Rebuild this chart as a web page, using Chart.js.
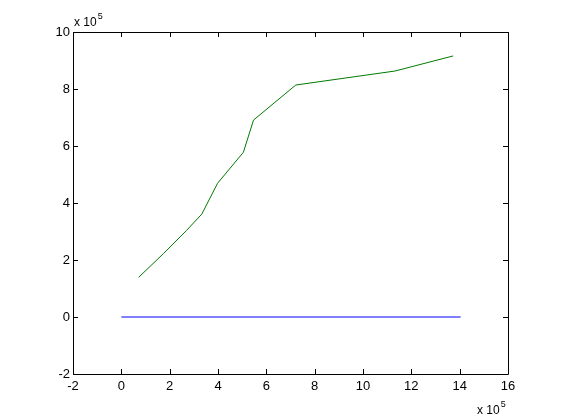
<!DOCTYPE html>
<html>
<head>
<meta charset="utf-8">
<script src="https://cdn.jsdelivr.net/npm/chart.js@4"></script>
<style>
  html, body { margin: 0; padding: 0; background: #fff; }
  canvas { display: block; }
</style>
</head>
<body>
<canvas id="grafico" width="561" height="420"></canvas>
<script>
// Datos (unidades reales, ejes en x 10^5)
const greenX = [71500, 175000, 269000, 333000, 398000, 505000, 547000, 722000, 1132000, 1373000];
const greenY = [139000, 223000, 303000, 361000, 469000, 578000, 691000, 814000, 863000, 916000];
const blueX = [0, 1404000];
const blueY = [0, 0];
const xTicks = [-2, 0, 2, 4, 6, 8, 10, 12, 14, 16];
const yTicks = [-2, 0, 2, 4, 6, 8, 10];
const escala = 1e5;

const toPoints = function(xs, ys) {
    return xs.map(function(x, i) { return { x: x, y: ys[i] }; });
};

const fuente = "'Liberation Sans', Arial, Helvetica, sans-serif";

// Marco y marcas hacia dentro al estilo MATLAB
const marcoPlugin = {
    id: 'marco',
    afterDraw: function(chart) {
        const ctx = chart.ctx;
        const a = chart.chartArea;
        const sx = chart.scales.x;
        const sy = chart.scales.y;
        const len = 5;
        ctx.save();
        ctx.strokeStyle = '#000';
        ctx.lineWidth = 1;
        ctx.beginPath();
        ctx.rect(Math.round(a.left) + 0.5, Math.round(a.top) + 0.5,
                 Math.round(a.right - a.left), Math.round(a.bottom - a.top));
        xTicks.forEach(function(t) {
            const px = Math.round(sx.getPixelForValue(t * escala)) + 0.5;
            ctx.moveTo(px, a.bottom); ctx.lineTo(px, a.bottom - len);
            ctx.moveTo(px, a.top); ctx.lineTo(px, a.top + len);
        });
        yTicks.forEach(function(t) {
            const py = Math.round(sy.getPixelForValue(t * escala)) + 0.5;
            ctx.moveTo(a.left, py); ctx.lineTo(a.left + len, py);
            ctx.moveTo(a.right, py); ctx.lineTo(a.right - len, py);
        });
        ctx.stroke();

        // etiquetas de exponente
        ctx.fillStyle = '#000';
        ctx.textBaseline = 'alphabetic';
        ctx.textAlign = 'left';
        const exp = function(x, y) {
            ctx.font = '12px ' + fuente;
            ctx.fillText('x 10', x, y);
            const w = ctx.measureText('x 10').width;
            ctx.font = '9px ' + fuente;
            ctx.fillText('5', w + x + 1, y - 7);
        };
        exp(a.left + 1, a.top - 6);
        exp(a.right - 31, 414);
        ctx.restore();
    }
};

new Chart(document.getElementById('grafico'), {
    type: 'scatter',
    data: {
        datasets: [
            {
                label: 'azul',
                data: toPoints(blueX, blueY),
                showLine: true,
                borderColor: '#0000ff',
                borderWidth: 1,
                pointRadius: 0,
                tension: 0
            },
            {
                label: 'verde',
                data: toPoints(greenX, greenY),
                showLine: true,
                borderColor: '#007a00',
                borderWidth: 1,
                pointRadius: 0,
                tension: 0
            }
        ]
    },
    options: {
        responsive: false,
        animation: false,
        layout: {
            padding: { top: 32, right: 53, left: 0, bottom: 0 }
        },
        plugins: {
            legend: { display: false },
            tooltip: { enabled: false }
        },
        scales: {
            x: {
                type: 'linear',
                min: -2 * escala,
                max: 16 * escala,
                afterFit: function(scale) { scale.height = 46; },
                afterBuildTicks: function(scale) {
                    scale.ticks = xTicks.map(function(t) { return { value: t * escala }; });
                },
                grid: { display: false, drawTicks: false },
                border: { display: false },
                ticks: {
                    padding: 5,
                    color: '#000',
                    maxRotation: 0,
                    font: { size: 13, family: fuente },
                    callback: function(value) { return String(Math.round(value / escala)); }
                }
            },
            y: {
                type: 'linear',
                min: -2 * escala,
                max: 10 * escala,
                afterFit: function(scale) { scale.width = 73; },
                afterBuildTicks: function(scale) {
                    scale.ticks = yTicks.map(function(t) { return { value: t * escala }; });
                },
                grid: { display: false, drawTicks: false },
                border: { display: false },
                ticks: {
                    padding: 3,
                    color: '#000',
                    font: { size: 13, family: fuente },
                    callback: function(value) { return String(Math.round(value / escala)); }
                }
            }
        }
    },
    plugins: [marcoPlugin]
});
</script>
</body>
</html>
